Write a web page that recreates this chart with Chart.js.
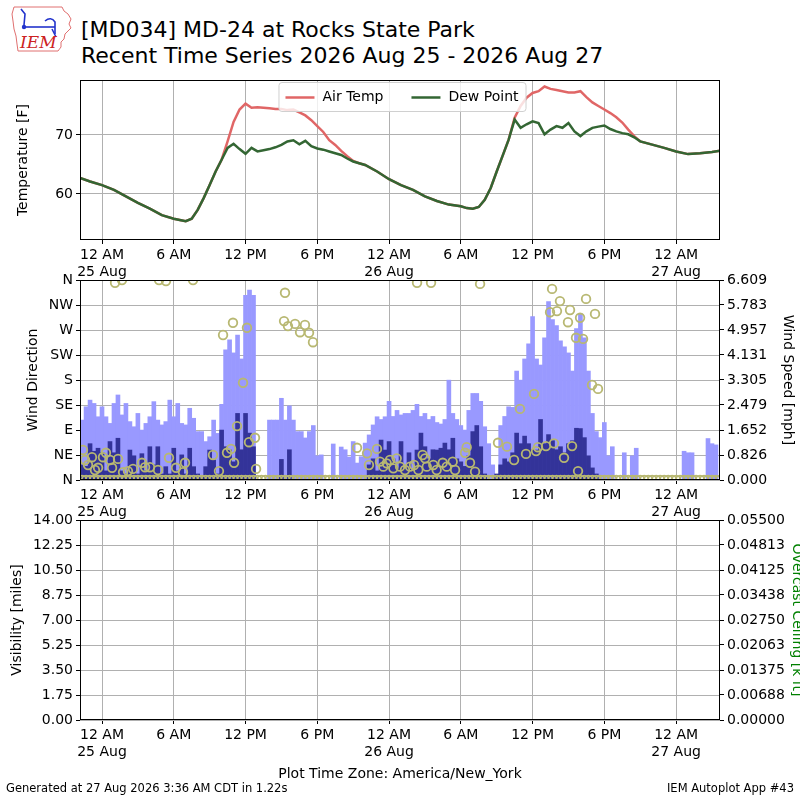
<!DOCTYPE html>
<html>
<head>
<meta charset="utf-8">
<script src="https://cdn.jsdelivr.net/npm/chart.js@4.4.1/dist/chart.umd.min.js"></script>
<style>
  body { margin: 0; background: #fff; font-family: 'DejaVu Sans', sans-serif; }
  #page { position: relative; width: 800px; height: 800px; overflow: hidden; }
  canvas { position: absolute; left: 0; }
  .txt { position: absolute; white-space: nowrap; color: #000; }
</style>
</head>
<body>
<div id="page">
  <svg style="position:absolute;left:8px;top:3px" width="66" height="52" viewBox="0 0 66 52">
    <path d="M6 4 H54 L56 8 L60 11 L63 16 L61 21 L63 25 L60 28 L57 31 L56 36 L53 39 L53 44 L50 48 H10 L9 41 L8 33 L6 26 L5 18 L4 11 Z" fill="none" stroke="#e07070" stroke-width="1"/>
    <g stroke="#2233cc" stroke-width="1.6" fill="none">
      <path d="M13 6 L17 11 L16 22"/>
      <line x1="16" y1="24" x2="47" y2="24"/>
      <path d="M37 18 Q43 13 47 19 L47 31"/>
      <path d="M44 26 L48 34"/>
    </g>
    <circle cx="16" cy="24" r="2.2" fill="#2233cc"/>
    <text x="12" y="45" font-family="'DejaVu Serif', serif" font-style="italic" font-size="17" fill="#cc2222">IEM</text>
  </svg>
  <div class="txt" style="left:81px;top:17px;font-size:22px;line-height:26px">[MD034] MD-24 at Rocks State Park</div>
  <div class="txt" style="left:81px;top:43px;font-size:22px;line-height:26px">Recent Time Series 2026 Aug 25 - 2026 Aug 27</div>

  <canvas id="tempChart" width="800" height="280" style="top:0"></canvas>
  <canvas id="windChart" width="800" height="260" style="top:260px"></canvas>
  <canvas id="visChart" width="800" height="300" style="top:500px"></canvas>

  <div class="txt" style="left:0;width:800px;text-align:center;top:765px;font-size:14px;line-height:17px">Plot Time Zone: America/New_York</div>
  <div class="txt" style="left:6px;top:782px;font-size:11.5px;line-height:13px">Generated at 27 Aug 2026 3:36 AM CDT in 1.22s</div>
  <div class="txt" style="right:6px;top:782px;font-size:11.5px;line-height:13px">IEM Autoplot App #43</div>
</div>

<script>
// hours counted from 25 Aug 12 AM (America/New_York)
const hourMin = -1.84;
const hourMax = 51.67;
const tickHours = [0, 6, 12, 18, 24, 30, 36, 42, 48];
const tickLabels = [['12 AM', '25 Aug'], '6 AM', '12 PM', '6 PM', ['12 AM', '26 Aug'], '6 AM', '12 PM', '6 PM', ['12 AM', '27 Aug']];

// temperature panel
const tempHours = [
  -1.84, -1, 0, 1, 2, 3, 4, 5, 6, 6.5, 7, 7.5, 8, 8.5, 9, 9.5,
  10, 10.5, 11, 11.5, 12, 12.5, 13, 13.5, 14, 14.5, 15, 15.5, 16, 16.5, 17, 17.5,
  18, 18.5, 19, 19.5, 20, 20.5, 21, 21.5,
  22, 23, 24, 25, 26, 27, 28, 29, 30, 30.5, 31, 31.5, 32, 32.5, 33, 33.5, 34,
  34.5, 35, 35.5, 36, 36.5, 37, 37.5, 38, 38.5, 39, 39.5, 40, 40.5, 41, 41.5,
  42, 42.5, 43, 43.5, 44, 44.5,
  45, 46, 47, 48, 49, 50, 51, 51.67
];
const airTemp = [
  62.7, 62.1, 61.5, 60.7, 59.6, 58.5, 57.5, 56.4, 55.8, 55.6, 55.4, 55.8, 57.3, 59.3, 61.5, 63.8,
  65.8, 68.9, 72.2, 74.3, 75.3, 74.6, 74.7, 74.6, 74.5, 74.4, 74.4, 74.2, 74.3, 73.8, 73.3, 72.5,
  71.5, 70.5, 69.1, 68.3, 67.3, 66.4, 65.6, 65.2,
  64.9, 63.8, 62.5, 61.5, 60.7, 59.6, 58.8, 58.2, 57.9, 57.6, 57.5, 57.8, 59.0, 61.0, 63.8, 66.5, 69.2,
  72.9, 74.9, 76.3, 77.1, 77.4, 78.2, 77.8, 77.6, 77.4, 77.2, 77.2, 77.4, 76.4, 75.5, 74.9,
  74.3, 73.7, 73.0, 72.1, 70.9, 69.8,
  68.9, 68.35, 67.8, 67.2, 66.75, 66.9, 67.1, 67.3
];
const dewPoint = [
  62.7, 62.1, 61.5, 60.7, 59.6, 58.5, 57.5, 56.4, 55.8, 55.6, 55.4, 55.8, 57.3, 59.3, 61.5, 63.8,
  65.8, 67.8, 68.5, 67.6, 66.8, 67.8, 67.2, 67.4, 67.6, 67.9, 68.3, 68.9, 69.1, 68.4, 69.0, 68.1,
  67.7, 67.5, 67.2, 66.9, 66.6, 66.0, 65.5, 65.2,
  64.9, 63.8, 62.5, 61.5, 60.7, 59.6, 58.8, 58.2, 57.9, 57.6, 57.5, 57.8, 59.0, 61.0, 63.8, 66.5, 69.2,
  72.6, 71.2, 71.8, 72.3, 72.0, 70.1, 70.9, 71.5, 71.2, 72.0, 70.6, 69.8, 70.6, 71.2, 71.4,
  71.6, 71.0, 70.6, 70.3, 70.1, 69.6,
  68.9, 68.35, 67.8, 67.2, 66.75, 66.9, 67.1, 67.3
];
const tempTicks = [60, 70];

// wind panel: 20 minute slots starting 24 Aug 10:20 PM
const slotStart = -5 / 3;
const slotStep = 1 / 3;
const windGust = [
  1.98, 2.42, 2.64, 2.53, 2.09, 2.42, 2.09, 1.87, 2.53, 2.81,
  2.15, 2.53, 1.93, 1.76, 2.2, 1.65, 1.87, 2.09, 2.59, 1.98,
  1.82, 1.93, 2.64, 2.09, 2.53, 1.87, 1.82, 2.37, 2.04, 1.6,
  1.6, 1.27, 1.43, 1.98, 1.54, 2.5, 4.3, 4.63, 4.2, 4.79,
  4.0, 6.1, 6.28, 6.1, 0, 0, 0, 1.98, 1.98, 1.98,
  2.7, 1.98, 2.45, 1.98, 1.6, 1.6, 1.39, 1.6, 1.8, 0.8,
  0.83, 0, 0, 1.19, 0, 1.09, 1.0, 0.76, 1.27, 0.56,
  0.77, 1.22, 1.49, 1.82, 2.09, 2.0, 2.09, 2.6, 2.1, 2.3,
  2.15, 2.2, 2.2, 2.3, 2.5, 2.1, 2.2, 2.0, 2.1, 1.9,
  1.85, 2.0, 3.3, 2.2, 2.0, 1.8, 1.65, 2.3, 2.86, 2.86,
  2.6, 1.76, 1.2, 0.5, 0, 1.8, 2.1, 2.42, 2.4, 3.6,
  3.3, 4.0, 4.5, 5.4, 4.0, 3.8, 4.7, 5.9, 5.3, 5.1,
  4.6, 4.4, 4.2, 3.6, 5.0, 5.5, 4.7, 3.6, 2.2, 1.6,
  1.4, 1.9, 0.8, 1.1, 0, 0, 0.9, 0, 0.8, 1.05,
  0, 0, 0, 0, 0, 0, 0, 0, 0, 0,
  0, 0.95, 0.9, 0.9, 0, 0, 0, 1.37, 1.2, 1.16,
  0
];
const windSpeed = [
  0.5, 0.45, 1.2, 0.95, 1.05, 0.9, 0.3, 1.27, 0.9, 1.38,
  0.3, 0.2, 0.99, 0.8, 0.2, 0.87, 0.3, 1.1, 0.5, 1.1,
  0.2, 0.44, 0.2, 1.05, 0.3, 0.83, 0.2, 1.05, 0.44, 0.2,
  0.1, 0.44, 0.99, 0.66, 0.2, 1.65, 1.1, 0.99, 0.6, 2.2,
  1.0, 2.2, 1.55, 1.1, 0, 0, 0, 0, 0, 0,
  0.68, 0, 1.0, 0, 0, 0, 0, 0, 0, 0,
  0, 0, 0, 0, 0, 0, 0, 0, 0, 0,
  0, 0, 0.5, 0.7, 0.3, 1.32, 0.99, 1.27, 0.7, 0.4,
  1.27, 0.4, 0.9, 0.3, 0.99, 1.55, 1.1, 0.7, 1.0, 0.99,
  1.05, 1.22, 1.0, 1.38, 0.7, 0.6, 0.45, 0.8, 1.6, 1.8,
  1.1, 0.2, 0, 0, 0.2, 0.5, 0.7, 0.6, 0.9, 1.55,
  1.2, 1.45, 1.2, 1.0, 0.99, 2.0, 1.2, 1.5, 1.3, 1.0,
  1.1, 0.9, 1.2, 1.3, 1.71, 1.7, 1.4, 0.8, 0.4, 0.2,
  0, 0, 0, 0, 0, 0, 0, 0, 0, 0,
  0, 0, 0, 0, 0, 0, 0, 0, 0, 0,
  0, 0, 0, 0, 0, 0, 0, 0, 0, 0,
  0
];
// calm reports (direction 0) seen along the bottom edge in every slot
const calmDir = [
  0, 0, 0, 0, 0, 0, 0, 0, 0, 0, 0, 0, 0, 0, 0, 0, 0, 0, 0, 0,
  0, 0, 0, 0, 0, 0, 0, 0, 0, 0, 0, 0, 0, 0, 0, 0, 0, 0, 0, 0,
  0, 0, 0, 0, 0, 0, 0, 0, 0, 0, 0, 0, 0, 0, 0, 0, 0, 0, 0, 0,
  0, 0, 0, 0, 0, 0, 0, 0, 0, 0, 0, 0, 0, 0, 0, 0, 0, 0, 0, 0,
  0, 0, 0, 0, 0, 0, 0, 0, 0, 0, 0, 0, 0, 0, 0, 0, 0, 0, 0, 0,
  0, 0, 0, 0, 0, 0, 0, 0, 0, 0, 0, 0, 0, 0, 0, 0, 0, 0, 0, 0,
  0, 0, 0, 0, 0, 0, 0, 0, 0, 0, 0, 0, 0, 0, 0, 0, 0, 0, 0, 0,
  0, 0, 0, 0, 0, 0, 0, 0, 0, 0, 0, 0, 0, 0, 0, 0, 0, 0, 0, 0,
  0
];
const dirHours = [
  -1.59, -1.42, -1.17, -0.84, -0.59, -0.33, 0.08, 0.33, 0.67, 0.84, 1.34, 1.76,
  2.17, 2.59, 3.34, 3.6, 4.01, 4.68, 5.6, 6.19, 6.77, 6.94, 9.28, 9.78,
  10.45, 10.79, 11.04, 11.29, 11.79, 12.29, 12.79, 12.88, 10.12, 10.95, 12.12,
  1.09, 1.67, 4.77, 5.35, 7.61,
  15.22, 15.3, 15.55, 16.14, 16.56, 16.97, 17.31, 17.64,
  21.32, 22.16, 22.32, 22.99, 23.24, 23.52, 23.8, 24.08, 24.36, 24.64, 24.92,
  25.33, 25.75, 26.09, 26.45, 26.81, 27.01, 27.15, 27.7, 27.98, 28.49, 28.82, 29.32, 29.52,
  30.35, 30.49, 30.77, 31.19,
  26.34, 27.51, 31.61,
  33.11, 33.86, 34.45, 34.95, 35.45, 36.12, 36.29, 36.45, 37.12, 37.46, 37.63, 37.79,
  38.04, 38.29, 38.63, 38.96, 39.13, 39.3, 39.63, 39.8, 39.97, 40.22, 40.47, 40.97,
  41.22, 41.47
];
const dirDeg = [
  54, 36, 27, 41, 18, 22, 41, 49, 36, 22, 38, 14,
  16, 20, 31, 23, 23, 18, 40, 22, 14, 31, 45, 16,
  49, 56, 31, 97, 175, 68, 76, 20, 261, 283, 274,
  355, 360, 360, 358, 360,
  286, 337, 277, 281, 266, 279, 265, 248,
  58, 48, 27, 56, 33, 24, 30, 36, 21, 39, 24,
  18, 24, 27, 18, 45, 39, 24, 27, 18, 31, 24, 33, 18,
  49, 59, 31, 15,
  355, 355, 353,
  67, 60, 36, 128, 47, 155, 52, 59, 61, 302, 344, 66,
  304, 322, 40, 284, 306, 61, 256, 16, 292, 254, 326, 171,
  299, 164
];
const dirTicks = [0, 45, 90, 135, 180, 225, 270, 315, 360];
const dirLabels = ['N', 'NE', 'E', 'SE', 'S', 'SW', 'W', 'NW', 'N'];
const speedMax = 6.609;
const speedLabels = ['0.000', '0.826', '1.652', '2.479', '3.305', '4.131', '4.957', '5.783', '6.609'];

// visibility / ceiling panel (no reports in window)
const visLabels = ['0.00', '1.75', '3.50', '5.25', '7.00', '8.75', '10.50', '12.25', '14.00'];
const ceilLabels = ['0.00000', '0.00688', '0.01375', '0.02063', '0.02750', '0.03438', '0.04125', '0.04813', '0.05500'];

Chart.defaults.font.family = "'DejaVu Sans', sans-serif";
Chart.defaults.font.size = 14;
Chart.defaults.color = '#000';
Chart.defaults.animation = false;
Chart.defaults.events = [];
Chart.defaults.plugins.legend.display = false;
Chart.defaults.plugins.tooltip.enabled = false;

const gridColor = '#b0b0b0';

function timeAxis(z) {
  return {
    type: 'linear', min: hourMin, max: hourMax, offset: false, z: z || 0,
    afterBuildTicks: s => { s.ticks = tickHours.map(v => ({ value: v })); },
    afterFit: s => { s.height = 40; },
    ticks: { autoSkip: false, maxRotation: 0, minRotation: 0, padding: 3, callback: (v, i) => tickLabels[i] },
    grid: { color: gridColor, lineWidth: 1, tickLength: 4, tickColor: '#000', offset: false },
    border: { display: false }
  };
}

function valueAxis(pos, min, max, values, labels, title, titlePad, titleColor, z) {
  return {
    type: 'linear', position: pos, min: min, max: max, z: z || 0,
    afterBuildTicks: s => { s.ticks = values.map(v => ({ value: v })); },
    afterFit: s => { s.width = 80; },
    ticks: { autoSkip: false, padding: 3, callback: (v, i) => labels[i] },
    grid: { color: gridColor, lineWidth: 1, tickLength: 4, tickColor: '#000', drawOnChartArea: pos === 'left' },
    border: { display: false },
    title: { display: true, text: title, color: titleColor || '#000', padding: { top: titlePad, bottom: 0 } }
  };
}

const frame = {
  id: 'frame',
  afterDraw(chart) {
    const { ctx, chartArea: a } = chart;
    ctx.save();
    ctx.strokeStyle = '#000';
    ctx.lineWidth = 1;
    ctx.strokeRect(Math.round(a.left) + 0.5, Math.round(a.top) + 0.5, Math.round(a.width) - 1, Math.round(a.height) - 1);
    ctx.restore();
  }
};

const tempLegend = {
  id: 'tempLegend',
  afterDatasetsDraw(chart) {
    const { ctx, chartArea: a } = chart;
    ctx.save();
    ctx.font = "14px 'DejaVu Sans', sans-serif";
    const items = chart.data.datasets.map(d => ({ text: d.label, color: d.borderColor, w: ctx.measureText(d.label).width }));
    const handle = 29, gap = 8, colGap = 28, padX = 7, h = 29;
    let width = padX * 2 + colGap * (items.length - 1);
    items.forEach(it => { width += handle + gap + it.w; });
    const left = (a.left + a.right) / 2 - width / 2 + 2;
    const top = a.top + 2;
    ctx.beginPath();
    ctx.roundRect(left + 0.5, top + 0.5, width, h, 3);
    ctx.fillStyle = 'rgba(255,255,255,0.8)';
    ctx.fill();
    ctx.strokeStyle = '#d0d0d0';
    ctx.lineWidth = 1;
    ctx.stroke();
    let x = left + padX;
    const cy = top + h / 2 + 1;
    items.forEach(it => {
      ctx.beginPath();
      ctx.moveTo(x, cy);
      ctx.lineTo(x + handle, cy);
      ctx.strokeStyle = it.color;
      ctx.lineWidth = 2.5;
      ctx.stroke();
      ctx.fillStyle = '#000';
      ctx.textBaseline = 'middle';
      ctx.fillText(it.text, x + handle + gap, cy);
      x += handle + gap + it.w + colGap;
    });
    ctx.restore();
  }
};

// top: temperatures
new Chart(document.getElementById('tempChart'), {
  type: 'line',
  data: {
    datasets: [
      { label: 'Air Temp', data: tempHours.map((h, i) => ({ x: h, y: airTemp[i] })),
        borderColor: '#e06666', borderWidth: 2.5, pointRadius: 0, order: 2 },
      { label: 'Dew Point', data: tempHours.map((h, i) => ({ x: h, y: dewPoint[i] })),
        borderColor: '#336633', borderWidth: 2.5, pointRadius: 0, order: 1 }
    ]
  },
  options: {
    responsive: false,
    layout: { padding: { top: 80, right: 80, left: 0, bottom: 0 } },
    scales: {
      x: timeAxis(),
      y: valueAxis('left', 52.2, 79.3, tempTicks, tempTicks.map(String), 'Temperature [F]', 14.6)
    }
  },
  plugins: [frame, tempLegend]
});

// middle: wind direction and speed
const slotHours = windGust.map((v, i) => slotStart + i * slotStep);
const olive = '#b8b872';
new Chart(document.getElementById('windChart'), {
  data: {
    datasets: [
      { type: 'line', label: 'Wind Direction', data: dirHours.map((h, i) => ({ x: h, y: dirDeg[i] })),
        showLine: false, yAxisID: 'y', pointRadius: 4.3, pointBorderWidth: 1.8,
        pointBorderColor: olive, pointBackgroundColor: 'rgba(0,0,0,0)', borderColor: olive, clip: 0, order: 0 },
      { type: 'line', label: 'Calm', data: slotHours.map((h, i) => ({ x: h, y: calmDir[i] })),
        showLine: false, yAxisID: 'y', pointRadius: 4.3, pointBorderWidth: 1.8,
        pointBorderColor: olive, pointBackgroundColor: 'rgba(0,0,0,0)', borderColor: olive, clip: 0, order: 0 },
      { type: 'bar', label: 'Wind Speed', data: slotHours.map((h, i) => ({ x: h, y: windSpeed[i] })),
        yAxisID: 'y1', backgroundColor: '#333399', grouped: false, barPercentage: 1, categoryPercentage: 1, clip: 0, order: 1 },
      { type: 'bar', label: 'Wind Gust', data: slotHours.map((h, i) => ({ x: h, y: windGust[i] })),
        yAxisID: 'y1', backgroundColor: '#9999ff', grouped: false, barPercentage: 1, categoryPercentage: 1, clip: 0, order: 2 }
    ]
  },
  options: {
    responsive: false,
    layout: { padding: { top: 20, right: 0, left: 0, bottom: 0 } },
    scales: {
      x: timeAxis(1),
      y: valueAxis('left', 0, 360, dirTicks, dirLabels, 'Wind Direction', 24.6, null, 1),
      y1: valueAxis('right', 0, speedMax, speedLabels.map(Number), speedLabels, 'Wind Speed [mph]', 3.6)
    }
  },
  plugins: [frame]
});

// bottom: visibility and ceiling
new Chart(document.getElementById('visChart'), {
  type: 'line',
  data: {
    datasets: [
      { label: 'Visibility', data: [], yAxisID: 'y', borderColor: '#000' },
      { label: 'Overcast Ceiling', data: [], yAxisID: 'y1', borderColor: 'green' }
    ]
  },
  options: {
    responsive: false,
    layout: { padding: { top: 20, right: 0, left: 0, bottom: 40 } },
    scales: {
      x: timeAxis(),
      y: valueAxis('left', 0, 14, visLabels.map(Number), visLabels, 'Visibility [miles]', 8.6),
      y1: valueAxis('right', 0, 0.055, ceilLabels.map(Number), ceilLabels, 'Overcast Ceiling [k ft]', -5, 'green')
    }
  },
  plugins: [frame]
});
</script>
</body>
</html>
